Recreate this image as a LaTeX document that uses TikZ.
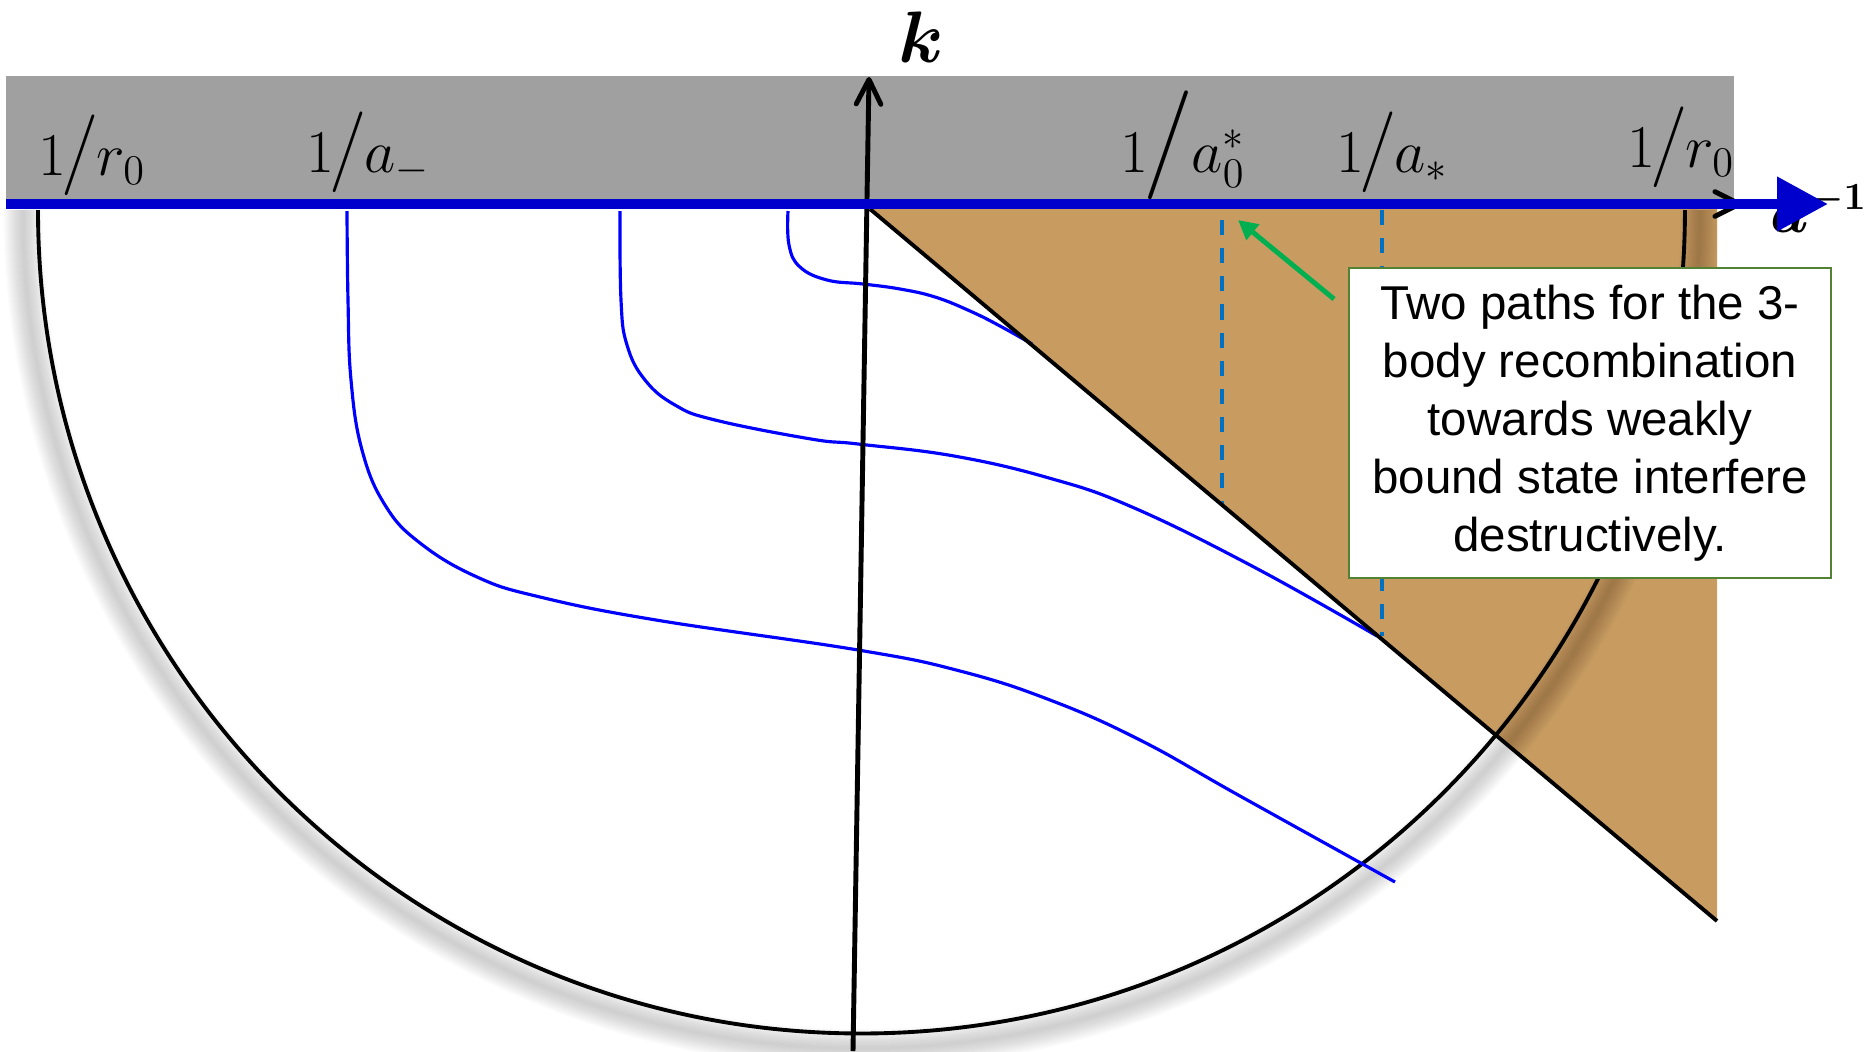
\documentclass[tikz,border=0pt]{standalone}
\usepackage{amsmath}
\usepackage{fontspec}
\newfontfamily\notefont{Liberation Sans}
\usetikzlibrary{arrows.meta, positioning}
\definecolor{bandgray}{RGB}{160,160,160}
\definecolor{regiontan}{RGB}{200,156,97}
\definecolor{axisblue}{RGB}{0,0,204}
\definecolor{dashblue}{RGB}{0,112,192}
\definecolor{notegreen}{RGB}{84,130,53}
\definecolor{arrowgreen}{RGB}{0,176,80}
% 1 / (something) with a tall slash
\newcommand{\oneover}[2][23]{$1$\kern-1.5pt{\fontsize{#1}{#1}\selectfont/}\kern-0.5pt$#2$}

\begin{document}
\begin{tikzpicture}[x=0.01cm, y=-0.01cm,
	flow/.style={blue, line width=0.9pt},
	cutline/.style={dashblue, line width=1.1pt, dash pattern=on 4.3pt off 3.7pt},
	axisline/.style={black, line width=1.4pt, -{Straight Barb[length=7pt, width=7pt, round]}},
	lbl/.style={inner sep=0pt, anchor=base west, font=\fontsize{17.5}{20}\selectfont},
	notebox/.style={draw=notegreen, line width=0.6pt, fill=white, minimum width=4.81cm, minimum height=3.09cm,
		align=center, inner sep=0pt, font=\notefont\fontsize{13.5}{16.5}\selectfont},
	pointer/.style={arrowgreen, line width=1.4pt, -{Triangle[length=5.5pt, width=5.5pt]}}
	]
	\useasboundingbox (0,0) rectangle (1869,1051);
	
	\coordinate (O) at (870,209);
	\coordinate (kbot) at (853,1051);
	\coordinate (ktop) at (869,77);
	\coordinate (diagend) at (1717,921);
	
	% band and region
	\fill[bandgray] (6,76) rectangle (1734,204);
	\fill[regiontan] (O) -- (1717,209) -- (diagend) -- cycle;
	
	% soft shadow of the circle
	\foreach \w in {3,6,...,39}
		\draw[black, opacity=0.014, line width=\w*0.2845pt] (23,210) arc[start angle=180, end angle=360, radius=8.38cm];
	\draw[black, line width=1.1pt] (38,210) arc[start angle=180, end angle=360, radius=8.23cm];
	
	% paths
	\draw[flow] plot[smooth, tension=0.7] coordinates {(347,211) (348,300) (351,380) (362,450) (385,505) (420,543)
		(477,577) (540,597) (656,620) (858,650) (960,671) (1050,700) (1140,740) (1240,796) (1395,882)};
	\draw[flow] plot[smooth, tension=0.7] coordinates {(620,211) (621,300) (627,345) (645,380) (675,405) (715,420)
		(811,439) (858,444) (954,456) (1049,478) (1132,507) (1252,566) (1377,636)};
	\draw[flow] plot[smooth, tension=0.7] coordinates {(788,211) (789,245) (800,267) (827,280) (863,284) (900,289)
		(935,297) (970,311) (1000,326) (1032,344)};
	
	% thresholds
	\draw[cutline] (1222,220) -- (1222,505);
	\draw[cutline] (1382,210) -- (1382,636);
	
	\draw[black, line width=1.1pt] (O) -- (diagend);
	\draw[axisline] (kbot) -- (ktop);
	\node[inner sep=0pt, anchor=base, font=\fontsize{22}{26}\selectfont] (klabel) at (921,62) {$\boldsymbol{k}$};
	
	% horizontal axis
	\draw[axisline] (1600,204) -- (1742,204);
	\node[lbl, font=\fontsize{16}{19}\selectfont] (alabel) at (1770,232) {$\boldsymbol{a^{-1}}$};
	\draw[axisblue, line width=3pt, -{Triangle[length=14.5pt, width=14.8pt]}] (6,204) -- (1828,204);
	
	\node[lbl] (rleft) at (38,175) {\oneover{r_0}};
	\node[lbl] (aminus) at (306,172) {\oneover{a_{-}}};
	\node[lbl] (azero) at (1120,172) {\oneover[31]{a_0^{*}}};
	\node[lbl] (astar) at (1336,172) {\oneover{a_{*}}};
	\node[lbl] (rright) at (1627,167) {\oneover{r_0}};
	
	% note
	\node[notebox] (note) at (1590,423) {Two paths for the 3-\\body recombination\\towards weakly\\bound state interfere\\destructively.};
	\coordinate (tail) at (1334,299);
	\coordinate (tip) at (1238,220);
	\draw[pointer] (tail) -- (tip);
\end{tikzpicture}
\end{document}
